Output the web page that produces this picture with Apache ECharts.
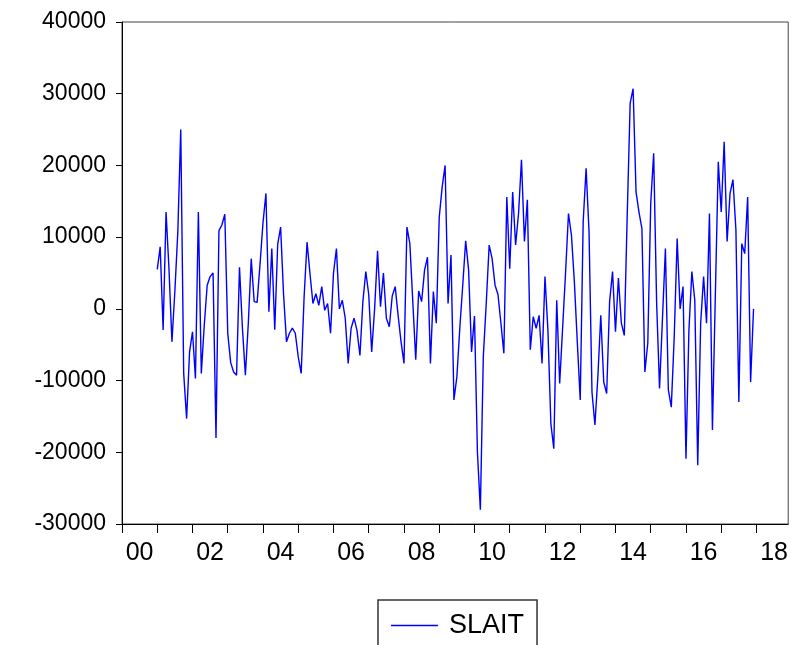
<!DOCTYPE html>
<html>
<head>
<meta charset="utf-8">
<script src="https://cdn.jsdelivr.net/npm/echarts@6/dist/echarts.min.js"></script>
<style>
  html, body { margin: 0; padding: 0; background: #ffffff; }
  #chart { width: 791px; height: 645px; }
</style>
</head>
<body>
<div id="chart"></div>
<script>
// Monthly series, one row per year, starting January 2001
const seriesName = 'SLAIT';
const firstYear = 2001;
const slait = [
  // 2001
  5500, 8650, -2950, 13500, 5500, -4600, 2500, 10700, 25000, -9000, -15300, -6000,
  // 2002
  -3200, -9700, 13500, -9000, -2300, 3300, 4500, 5000, -18000, 10900, 11700, 13200,
  // 2003
  -3400, -7500, -8800, -9250, 5800, -2700, -9250, -2000, 7000, 1000, 900, 6300,
  // 2004
  12000, 16100, -400, 8400, -2900, 9000, 11400, 2000, -4600, -3400, -2700, -3400,
  // 2005
  -6700, -9000, 1700, 9300, 4900, 750, 2100, 500, 3100, -200, 750, -3400,
  // 2006
  5000, 8400, 0, 1200, -1300, -7600, -2700, -1300, -3000, -6500, 1000, 5200,
  // 2007
  2000, -6000, 0, 8100, 300, 5000, -1300, -2500, 1800, 3100, -900, -4600,
  // 2008
  -7600, 11400, 9100, 1000, -7100, 2500, 1000, 5400, 7200, -7600, 2400, -2000,
  // 2009
  12800, 17000, 20000, 750, 7500, -12700, -9500, -2700, 3300, 9500, 5400, -6000,
  // 2010
  -1000, -20000, -28000, -6700, 750, 8900, 7000, 3300, 2000, -2000, -6200, 15600,
  // 2011
  5600, 16300, 8900, 13300, 20800, 9400, 15200, -5700, -1100, -2700, -900, -7600,
  // 2012
  4500, -3000, -16000, -19500, 1200, -10400, -2700, 5000, 13300, 10300, 3800, -4600,
  // 2013
  -12700, 12100, 19600, 10700, -11600, -16200, -9500, -900, -10200, -11800, 1000, 5200,
  // 2014
  -3200, 4300, -2000, -3700, 13100, 28700, 30700, 16300, 13500, 11200, -8800, -4800,
  // 2015
  14700, 21700, 1000, -11100, -1300, 8400, -11300, -13700, -3900, 9800, 0, 3100,
  // 2016
  -20900, -3000, 5200, 1200, -21800, -2000, 4500, -2000, 13300, -16900, 2000, 20500,
  // 2017
  13500, 23300, 9400, 16100, 18000, 11000, -13000, 9100, 7700, 15600, -10200, 0
];

// Year boundaries carry tick marks; labels sit mid-year on even years
const yearTicks = [2000, 2001, 2002, 2003, 2004, 2005, 2006, 2007, 2008, 2009,
                   2010, 2011, 2012, 2013, 2014, 2015, 2016, 2017, 2018];
const yearLabels = [2000.5, 2002.5, 2004.5, 2006.5, 2008.5, 2010.5,
                    2012.5, 2014.5, 2016.5, 2018.5];

const points = slait.map((v, i) => [firstYear + i / 12, v]);

const font = '"Liberation Sans", Arial, sans-serif';
const chart = echarts.init(document.getElementById('chart'), null, { renderer: 'canvas' });

chart.setOption({
  animation: false,
  backgroundColor: '#ffffff',
  grid: {
    left: 122, right: 2, top: 22, bottom: 121,
    show: true, borderColor: '#444444', borderWidth: 1, backgroundColor: 'transparent'
  },
  xAxis: {
    type: 'value',
    min: 2000,
    max: 2018.9,
    axisLine: { show: true, onZero: false, lineStyle: { color: '#000000', width: 1 } },
    axisTick: { show: true, inside: false, length: 9, customValues: yearTicks,
                lineStyle: { color: '#000000', width: 1 } },
    axisLabel: {
      show: true, customValues: yearLabels, margin: 17,
      color: '#000000', fontFamily: font, fontSize: 25,
      formatter: v => String(Math.floor(v) % 100).padStart(2, '0')
    },
    splitLine: { show: false }
  },
  yAxis: {
    type: 'value',
    min: -30000,
    max: 40000,
    interval: 10000,
    axisLine: { show: true, onZero: false, lineStyle: { color: '#000000', width: 1 } },
    axisTick: { show: true, inside: false, length: 6, lineStyle: { color: '#000000', width: 1 } },
    axisLabel: { color: '#000000', fontFamily: font, fontSize: 23, margin: 16,
                 formatter: v => String(v) },
    splitLine: { show: false }
  },
  legend: {
    show: true,
    left: 378, top: 600,
    padding: [12, 13, 14, 13],
    borderColor: '#333333', borderWidth: 1.5,
    itemWidth: 47, itemHeight: 28,
    icon: 'path://M0,13.5 H47 V14.8 H0 Z',
    textStyle: { color: '#000000', fontFamily: font, fontSize: 27, padding: [0, 0, 0, 6] },
    data: [seriesName]
  },
  series: [{
    name: seriesName,
    type: 'line',
    data: points,
    showSymbol: false,
    symbol: 'none',
    lineStyle: { color: '#0000ff', width: 1.4 },
    itemStyle: { color: '#0000ff' }
  }]
});
</script>
</body>
</html>
